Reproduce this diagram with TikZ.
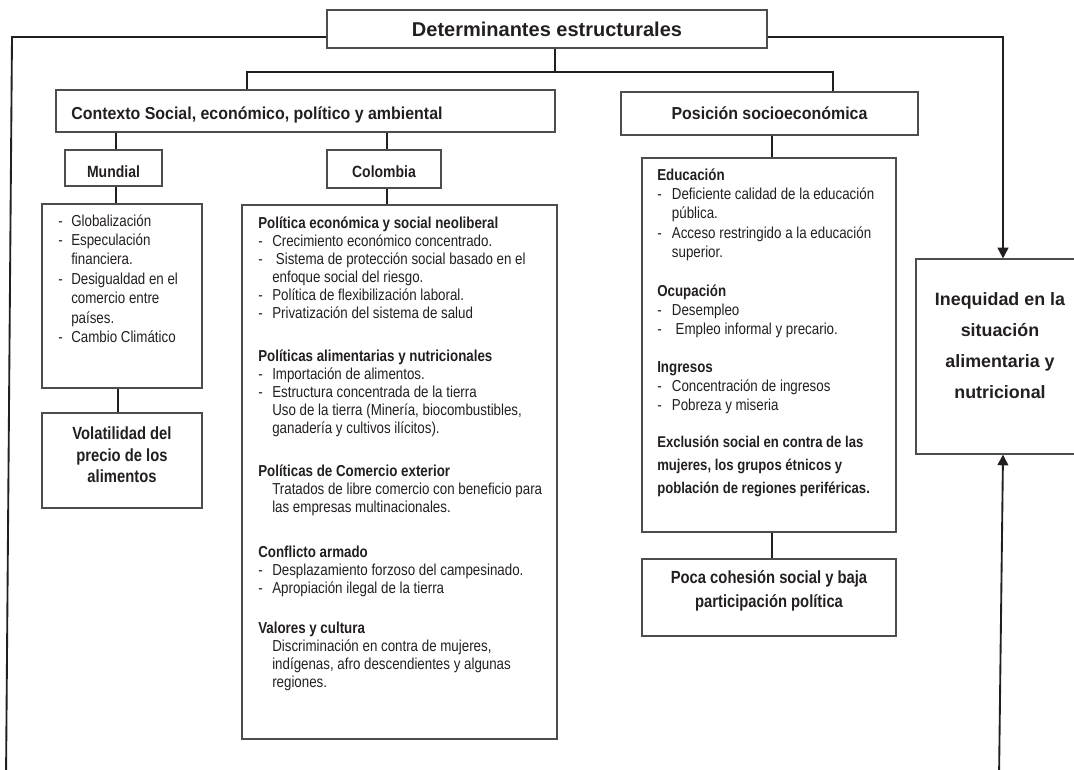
\documentclass[tikz,border=0pt]{standalone}
\usepackage{fontspec}
\setmainfont{Liberation Sans}
\newfontfamily\narA[FakeStretch=0.84]{Liberation Sans}
\newfontfamily\narB[FakeStretch=0.92]{Liberation Sans}
\newfontfamily\narC[FakeStretch=0.86]{Liberation Sans}
\usetikzlibrary{arrows.meta,fit}
\definecolor{ink}{HTML}{231F20}
\definecolor{edge}{HTML}{4D4D4D}
\newcommand{\dsh}{\makebox[10.5pt][l]{-}}
\newcommand{\ind}{\hspace*{10.5pt}}
\newcommand{\dshm}{\makebox[9.75pt][l]{-}}
\newcommand{\indm}{\hspace*{9.75pt}}
\newcommand{\dshp}{\makebox[11pt][l]{-}}
\newcommand{\indp}{\hspace*{11pt}}
\tikzset{
  box/.style={draw=edge, line width=0.9pt, inner sep=0pt, rectangle},
  conn/.style={draw=ink, line width=1.1pt},
  longline/.style={draw=ink, line width=1.4pt},
  arr/.style={draw=ink, line width=1.4pt, -{Triangle[length=8pt,width=8pt]}},
  lst/.style={anchor=base west, inner sep=0pt, text=ink, font=\narA\fontsize{11.9}{13.5}\selectfont},
  lstm/.style={anchor=base west, inner sep=0pt, text=ink, font=\narA\fontsize{11.9}{14.6}\selectfont},
  lstp/.style={anchor=base west, inner sep=0pt, text=ink, font=\narA\fontsize{11.9}{14.6}\selectfont},
  lstx/.style={anchor=base west, inner sep=0pt, text=ink, font=\narA\bfseries\fontsize{11.7}{17.25}\selectfont},
  head/.style={inner sep=0pt, text=ink},
}
\begin{document}
\begin{tikzpicture}[x=0.75pt,y=-0.75pt]
\useasboundingbox (0,0) rectangle (1074,769);
\clip (0,0) rectangle (1074,769);

% ---------- boxes ----------
\node[box, fit={(327,10) (767,48)}] (title) {};
\node[box, fit={(56,90) (555,132)}] (ctx) {};
\node[box, fit={(621,92) (918,135)}] (pos) {};
\node[box, fit={(65,150) (162,186)}] (mun) {};
\node[box, fit={(327,150) (441,188)}] (col) {};
\node[box, fit={(42,204) (202,388)}] (munl) {};
\node[box, fit={(42,413) (202,508)}] (vol) {};
\node[box, fit={(242,205) (557,739)}] (coll) {};
\node[box, fit={(642,158) (896,532)}] (posl) {};
\node[box, fit={(642,559) (896,636)}] (poca) {};
\node[box, fit={(916,259) (1095,454)}] (ineq) {};

% ---------- headings ----------
\node[head, anchor=base, font=\bfseries\fontsize{15}{18}\selectfont] (titlet) at (547,36) {Determinantes estructurales};
\node[head, anchor=base west, font=\narB\bfseries\fontsize{13}{15}\selectfont] (ctxt) at (71,119) {Contexto Social, económico, político y ambiental};
\node[head, anchor=base, font=\narB\bfseries\fontsize{13}{15}\selectfont] (post) at (769.5,119) {Posición socioeconómica};
\node[head, anchor=base, font=\narC\bfseries\fontsize{12.2}{14}\selectfont] (munt) at (113.5,177) {Mundial};
\node[head, anchor=base, font=\narC\bfseries\fontsize{12.2}{14}\selectfont] (colt) at (384,177) {Colombia};
\node[head, align=center, font=\narA\bfseries\fontsize{13.2}{16}\selectfont] (volt) at (122,455) {Volatilidad del\\precio de los\\alimentos};
\node[head, align=center, font=\narA\bfseries\fontsize{13.2}{18}\selectfont] (pocat) at (769,591) {Poca cohesión social y baja\\participación política};
\node[head, align=center, font=\bfseries\fontsize{13.4}{23.25}\selectfont] (ineqt) at (1000,346) {Inequidad en la\\situación\\alimentaria y\\nutricional};

% ---------- Mundial list ----------
\node[lstm] (m1) at (58,226) {\begin{tabular}[t]{@{}l@{}}
\dshm Globalización\\
\dshm Especulación\\
\indm financiera.\\
\dshm Desigualdad en el\\
\indm comercio entre\\
\indm países.\\
\dshm Cambio Climático
\end{tabular}};

% ---------- Colombia list ----------
\node[lst] (c1) at (258,228) {\begin{tabular}[t]{@{}l@{}}
\textbf{Política económica y social neoliberal}\\
\dsh Crecimiento económico concentrado.\\
\dsh\ Sistema de protección social basado en el\\
\ind enfoque social del riesgo.\\
\dsh Política de flexibilización laboral.\\
\dsh Privatización del sistema de salud
\end{tabular}};
\node[lst] (c2) at (258,361) {\begin{tabular}[t]{@{}l@{}}
\textbf{Políticas alimentarias y nutricionales}\\
\dsh Importación de alimentos.\\
\dsh Estructura concentrada de la tierra\\
\ind Uso de la tierra (Minería, biocombustibles,\\
\ind ganadería y cultivos ilícitos).
\end{tabular}};
\node[lst] (c3) at (258,476) {\begin{tabular}[t]{@{}l@{}}
\textbf{Políticas de Comercio exterior}\\
\ind Tratados de libre comercio con beneficio para\\
\ind las empresas multinacionales.
\end{tabular}};
\node[lst] (c4) at (258,557) {\begin{tabular}[t]{@{}l@{}}
\textbf{Conflicto armado}\\
\dsh Desplazamiento forzoso del campesinado.\\
\dsh Apropiación ilegal de la tierra
\end{tabular}};
\node[lst] (c5) at (258,633) {\begin{tabular}[t]{@{}l@{}}
\textbf{Valores y cultura}\\
\ind Discriminación en contra de mujeres,\\
\ind indígenas, afro descendientes y algunas\\
\ind regiones.
\end{tabular}};

% ---------- Posicion list ----------
\node[lstp] (p1) at (657,180) {\begin{tabular}[t]{@{}l@{}}
\textbf{Educación}\\
\dshp Deficiente calidad de la educación\\
\indp pública.\\
\dshp Acceso restringido a la educación\\
\indp superior.
\end{tabular}};
\node[lstp] (p2) at (657,296) {\begin{tabular}[t]{@{}l@{}}
\textbf{Ocupación}\\
\dshp Desempleo\\
\dshp\ Empleo informal y precario.
\end{tabular}};
\node[lstp] (p3) at (657,372) {\begin{tabular}[t]{@{}l@{}}
\textbf{Ingresos}\\
\dshp Concentración de ingresos\\
\dshp Pobreza y miseria
\end{tabular}};
\node[lstx] (p4) at (657,447) {\begin{tabular}[t]{@{}l@{}}
Exclusión social en contra de las\\
mujeres, los grupos étnicos y\\
población de regiones periféricas.
\end{tabular}};

% ---------- connectors ----------
\coordinate (bus) at (555,72);
\draw[conn] (title.south -| bus) -- (bus);
\draw[conn] (ctx.north -| 247,0) |- (bus) -| (pos.north -| 833,0);
\draw[conn] (ctx.south -| 116,0) -- (mun.north -| 116,0);
\draw[conn] (ctx.south -| 387,0) -- (col.north -| 387,0);
\draw[conn] (mun.south -| 116,0) -- (munl.north -| 116,0);
\draw[conn] (munl.south -| 118,0) -- (vol.north -| 118,0);
\draw[conn] (col.south -| 387,0) -- (coll.north -| 387,0);
\draw[conn] (pos.south -| 772,0) -- (posl.north -| 772,0);
\draw[conn] (posl.south -| 772,0) -- (poca.north -| 772,0);

\coordinate (lbot) at (6,780);
\draw[longline] (title.west |- 0,37) -- (12,37) -- (lbot);
\draw[arr] (title.east |- 0,37) -| (ineq.north -| 1003,0);
\coordinate (rbot) at (999,780);
\draw[arr] (rbot) -- (ineq.south -| 1003,0);
\end{tikzpicture}
\end{document}
